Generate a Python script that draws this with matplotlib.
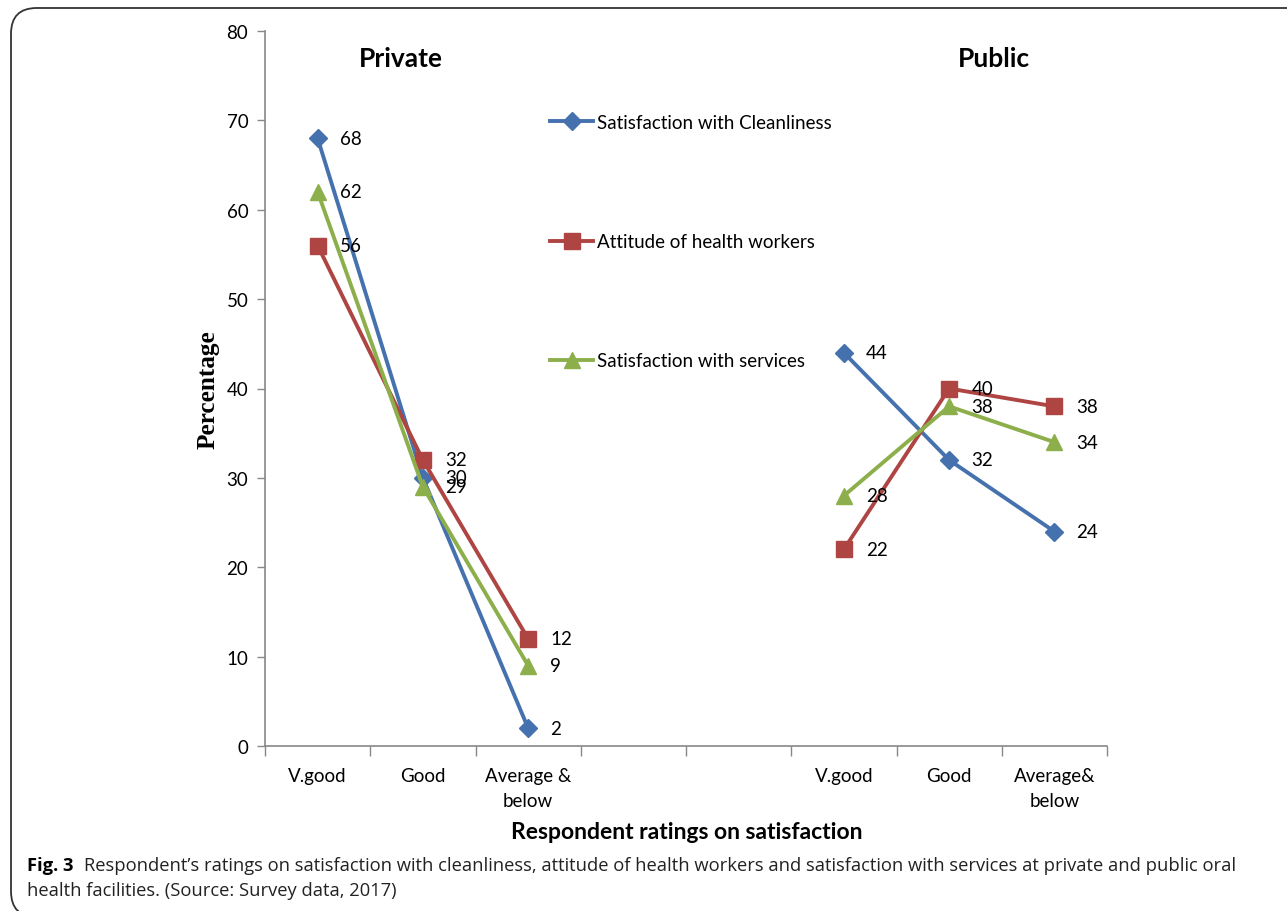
import matplotlib
matplotlib.use("Agg")
import matplotlib.pyplot as plt
from matplotlib.patches import FancyBboxPatch

# ratings per sector
categories = ['V.good', 'Good', 'Average &\nbelow', '', '', 'V.good', 'Good', 'Average&\nbelow']
private_x = [0, 1, 2]
public_x = [5, 6, 7]

cleanliness_private = [68, 30, 2]
attitude_private = [56, 32, 12]
services_private = [62, 29, 9]

cleanliness_public = [44, 32, 24]
attitude_public = [22, 40, 38]
services_public = [28, 38, 34]

series_names = ['Satisfaction with Cleanliness', 'Attitude of health workers',
                'Satisfaction with services']
colors = ['#4572AE', '#AE4542', '#8CAF4B']
markers = ['D', 's', '^']
msizes = [9.5, 11, 12]

plt.rcParams['font.family'] = ['Lato', 'DejaVu Sans']

fig = plt.figure(figsize=(12.87, 9.12), dpi=100)
ax = fig.add_axes([265 / 1287, 1 - 747 / 912, 842 / 1287, 715 / 912])

private = [cleanliness_private, attitude_private, services_private]
public = [cleanliness_public, attitude_public, services_public]

for i in range(3):
    ax.plot(private_x, private[i], color=colors[i], lw=2.8, marker=markers[i],
            ms=msizes[i], label=series_names[i])
    ax.plot(public_x, public[i], color=colors[i], lw=2.8, marker=markers[i],
            ms=msizes[i])
    for xs, ys in [(private_x, private[i]), (public_x, public[i])]:
        for x, y in zip(xs, ys):
            ax.annotate(str(y), (x, y), xytext=(16, 0), textcoords='offset points',
                        ha='left', va='center', fontsize=13.5, color='black')

ax.set_xlim(-0.5, 7.5)
ax.set_ylim(0, 80)
ax.set_yticks(range(0, 81, 10))
ax.set_xticks(range(len(categories)))
ax.set_xticklabels(categories, fontsize=13.5, linespacing=1.55)
ax.set_xticks([i - 0.5 for i in range(len(categories) + 1)], minor=True)
ax.tick_params(axis='x', which='major', length=0, pad=15)
ax.tick_params(axis='x', which='minor', length=7, color='#888888', width=1)
ax.tick_params(axis='y', length=6, color='#888888', width=1, labelsize=13.5, pad=6)
for s in ['top', 'right']:
    ax.spines[s].set_visible(False)
for s in ['left', 'bottom']:
    ax.spines[s].set_color('#888888')
    ax.spines[s].set_linewidth(1.2)

ax.text(0.1615, 0.962, 'Private', transform=ax.transAxes, ha='center', va='center',
        fontsize=19, fontweight='bold')
ax.text(0.866, 0.962, 'Public', transform=ax.transAxes, ha='center', va='center',
        fontsize=19, fontweight='bold')

leg = ax.legend(loc='upper left', bbox_to_anchor=(0.3385, 0.884), frameon=False,
                fontsize=13.5, handlelength=2.3, handletextpad=0.2, borderpad=0,
                borderaxespad=0, labelspacing=5.45)

fig.text(208 / 1287, 1 - 390 / 912, 'Percentage', rotation=90, ha='center', va='center',
         fontsize=18.2, fontweight='bold', family='Liberation Serif')
fig.text(687 / 1287, 1 - 833 / 912, 'Respondent ratings on satisfaction', ha='center',
         va='center', fontsize=16.5, fontweight='bold')

# caption under the chart
fig.canvas.draw()
r = fig.canvas.get_renderer()
t1 = fig.text(27 / 1287, 1 - 866 / 912, 'Fig. 3', ha='left', va='center',
              fontsize=13.25, fontweight='bold', family='Open Sans')
bb = t1.get_window_extent(renderer=r)
fig.text((bb.x1 + 10) / 1287, 1 - 866 / 912,
         'Respondent\u2019s ratings on satisfaction with cleanliness, attitude of health workers '
         'and satisfaction with services at private and public oral',
         ha='left', va='center', fontsize=13.25, family='Open Sans', color='#222222')
fig.text(27 / 1287, 1 - 891 / 912, 'health facilities. (Source: Survey data, 2017)',
         ha='left', va='center', fontsize=13.25, family='Open Sans', color='#222222')

frame = FancyBboxPatch((11 / 1287, 1 - 918 / 912), 1.1, (918 - 9) / 912,
                       boxstyle='round,pad=0,rounding_size=0.02',
                       transform=fig.transFigure, fill=False, ec='#333333', lw=1.3,
                       mutation_aspect=1287 / 912)
fig.patches.append(frame)

fig.savefig('out.png', dpi=100)
